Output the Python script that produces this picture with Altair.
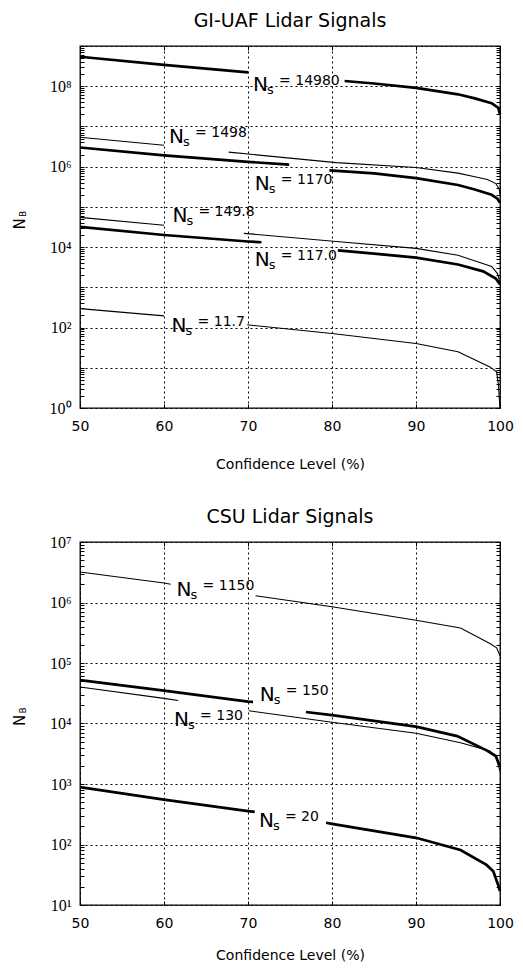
import altair as alt
import pandas as pd

# ---------------- GI-UAF panel data (confidence %, N_B) ----------------
gi_14980_conf_a = [50, 60, 70]
gi_14980_nb_a = [5.4e8, 3.4e8, 2.2e8]
gi_14980_conf_b = [81.5, 85, 90, 95, 97, 99, 99.8, 100]
gi_14980_nb_b = [1.35e8, 1.17e8, 9.1e7, 6.3e7, 5.0e7, 3.8e7, 2.9e7, 2.0e7]

gi_1498_conf_a = [50, 60]
gi_1498_nb_a = [5.4e6, 3.4e6]
gi_1498_conf_b = [67.7, 80.5, 90, 95, 97, 98.5, 99.5, 99.9, 100]
gi_1498_nb_b = [2.3e6, 1.26e6, 9.5e5, 6.9e5, 5.6e5, 4.8e5, 3.8e5, 2.8e5, 2.0e5]

gi_1170_conf_a = [50, 60, 70, 74.9]
gi_1170_nb_a = [3.0e6, 1.9e6, 1.32e6, 1.12e6]
gi_1170_conf_b = [79.7, 85, 90, 95, 97, 99, 99.7, 100]
gi_1170_nb_b = [8.1e5, 6.8e5, 5.2e5, 3.5e5, 2.7e5, 2.0e5, 1.6e5, 1.26e5]

gi_1498b_conf_a = [50, 60]
gi_1498b_nb_a = [5.5e4, 3.5e4]
gi_1498b_conf_b = [69.5, 80.5, 90, 95, 97.5, 99, 99.7, 100]
gi_1498b_nb_b = [2.2e4, 1.38e4, 9.3e3, 6.3e3, 4.2e3, 3.3e3, 2.2e3, 1.3e3]

gi_1170b_conf_a = [50, 60, 70, 71.6]
gi_1170b_nb_a = [3.2e4, 2.0e4, 1.38e4, 1.32e4]
gi_1170b_conf_b = [80.7, 85, 90, 95, 98, 99.5, 100]
gi_1170b_nb_b = [8.3e3, 6.9e3, 5.5e3, 3.7e3, 2.5e3, 1.66e3, 1.17e3]

gi_117_conf_a = [50, 60]
gi_117_nb_a = [295, 195]
gi_117_conf_b = [69.9, 80, 90, 95, 98.8, 99.6, 99.8, 100]
gi_117_nb_b = [117, 71, 40, 25, 10.5, 7.9, 4.0, 1.0]

gi_label_text = ["14980", "1498", "1170", "149.8", "117.0", "11.7"]
gi_label_conf = [70.6, 60.6, 70.8, 61.0, 70.8, 60.9]
gi_label_nb = [1.35e8, 6.8e6, 4.6e5, 7.4e4, 6.0e3, 135]

# ---------------- CSU panel data ----------------
csu_1150_conf_a = [50, 60, 60.8]
csu_1150_nb_a = [3.2e6, 2.1e6, 2.0e6]
csu_1150_conf_b = [70.9, 80, 90, 95.3, 98.8, 99.6, 100]
csu_1150_nb_b = [1.29e6, 8.5e5, 5.1e5, 3.8e5, 2.1e5, 1.78e5, 1.32e5]

csu_150_conf_a = [50, 60, 70, 70.6]
csu_150_nb_a = [5.2e4, 3.5e4, 2.3e4, 2.28e4]
csu_150_conf_b = [76.9, 80, 90, 94.9, 98.4, 99.5, 100]
csu_150_nb_b = [1.55e4, 1.38e4, 8.9e3, 6.2e3, 3.6e3, 2.9e3, 1.9e3]

csu_130_conf_a = [50, 60, 61.7]
csu_130_nb_a = [4.0e4, 2.6e4, 2.4e4]
csu_130_conf_b = [70.1, 80, 90, 95.3, 98.8, 99.6, 100]
csu_130_nb_b = [1.62e4, 1.05e4, 6.9e3, 4.8e3, 3.5e3, 2.7e3, 1.6e3]

csu_20_conf_a = [50, 60, 70, 70.8]
csu_20_nb_a = [890, 550, 355, 347]
csu_20_conf_b = [79.3, 80, 90, 95.3, 98.4, 99.2, 99.8, 100]
csu_20_nb_b = [229, 219, 129, 81, 46, 36, 21, 17]

csu_label_text = ["1150", "150", "130", "20"]
csu_label_conf = [61.5, 71.4, 61.2, 71.3]
csu_label_nb = [1.86e6, 3.5e4, 1.32e4, 282]

x_ticks = [50, 60, 70, 80, 90, 100]
ytitle_main = "N"
ytitle_sub = "B"
title_top = "GI-UAF Lidar Signals"
title_bottom = "CSU Lidar Signals"
x_title = "Confidence Level (%)"

gi_series = [
    ("s14980", "thick", [(gi_14980_conf_a, gi_14980_nb_a), (gi_14980_conf_b, gi_14980_nb_b)]),
    ("s1498", "thin", [(gi_1498_conf_a, gi_1498_nb_a), (gi_1498_conf_b, gi_1498_nb_b)]),
    ("s1170", "thick", [(gi_1170_conf_a, gi_1170_nb_a), (gi_1170_conf_b, gi_1170_nb_b)]),
    ("s149.8", "thin", [(gi_1498b_conf_a, gi_1498b_nb_a), (gi_1498b_conf_b, gi_1498b_nb_b)]),
    ("s117.0", "thick", [(gi_1170b_conf_a, gi_1170b_nb_a), (gi_1170b_conf_b, gi_1170b_nb_b)]),
    ("s11.7", "thin", [(gi_117_conf_a, gi_117_nb_a), (gi_117_conf_b, gi_117_nb_b)]),
]
csu_series = [
    ("s1150", "thin", [(csu_1150_conf_a, csu_1150_nb_a), (csu_1150_conf_b, csu_1150_nb_b)]),
    ("s150", "thick", [(csu_150_conf_a, csu_150_nb_a), (csu_150_conf_b, csu_150_nb_b)]),
    ("s130", "thin", [(csu_130_conf_a, csu_130_nb_a), (csu_130_conf_b, csu_130_nb_b)]),
    ("s20", "thick", [(csu_20_conf_a, csu_20_nb_a), (csu_20_conf_b, csu_20_nb_b)]),
]

W = 420
FONT = "DejaVu Sans"
K = "round(log(datum.value)/LN10)"
ISDEC = f"abs(log(datum.value)/LN10 - {K}) < 0.001"
SUP = "['\u2070','\u00b9','\u00b2','\u00b3','\u2074','\u2075','\u2076','\u2077','\u2078','\u2079']"
INWARD = {"expr": "-4"}


def line_rows(series):
    rows = []
    for sid, weight, pieces in series:
        for i, (xs, ys) in enumerate(pieces):
            for x, y in zip(xs, ys):
                rows.append({"conf": x, "nb": y, "seg": f"{sid}-{i}", "weight": weight})
    return pd.DataFrame(rows)


def panel(series, ltext, lconf, lnb, title, kmin, kmax, even_only, H, tpad):
    decades = [10 ** k for k in range(kmin, kmax + 1)]
    minors = [m * 10 ** k for k in range(kmin, kmax) for m in range(2, 10)]
    yvals = sorted(decades + minors)
    if even_only:
        lab = f"({ISDEC}) && ({K} % 2 == 0) ? '10' + {SUP}[{K}] : ''"
    else:
        lab = f"({ISDEC}) ? '10' + {SUP}[{K}] : ''"

    xs = alt.Scale(domain=[50, 100], nice=False, zero=False)
    ys = alt.Scale(type="log", domain=[10 ** kmin, 10 ** kmax], nice=False)

    x_bottom = alt.Axis(values=x_ticks, grid=True, gridDash=[2, 3], gridColor="black",
                        gridWidth=1, tickSize=INWARD, tickColor="black", domain=False,
                        labelFont=FONT, labelFontSize=14, labelColor="black",
                        labelPadding=15, labelFlush=False, title=x_title,
                        titleFont=FONT, titleFontSize=14, titleFontWeight="normal",
                        titleColor="black", titlePadding=tpad)
    y_left = alt.Axis(values=yvals, labelExpr=lab, grid=True, gridDash=[2, 3],
                      gridColor="black", gridWidth=1,
                      gridOpacity={"condition": {"test": ISDEC, "value": 1}, "value": 0},
                      tickSize=INWARD, tickColor="black", domain=False,
                      labelFont="Liberation Serif", labelFontSize=16, labelColor="black",
                      labelPadding=13, labelFlush=False, labelOverlap=False, title=None)
    x_top = alt.Axis(orient="top", values=x_ticks, grid=False, labels=False,
                     tickSize=INWARD, tickColor="black", domain=False, title=None,
                     minExtent=0, maxExtent=0)
    y_right = alt.Axis(orient="right", values=yvals, grid=False, labels=False,
                       tickSize=INWARD, tickColor="black", domain=False, title=None,
                       minExtent=0, maxExtent=0)

    lines = alt.Chart(line_rows(series)).mark_line(color="black").encode(
        x=alt.X("conf:Q", scale=xs, axis=x_bottom),
        y=alt.Y("nb:Q", scale=ys, axis=y_left),
        detail="seg:N",
        strokeWidth=alt.StrokeWidth("weight:N", scale=alt.Scale(domain=["thick", "thin"], range=[2.7, 1.1]), legend=None),
    )

    ldf = pd.DataFrame({"lx": lconf, "ly": lnb, "txt": ["= " + t for t in ltext]})
    n_lab = alt.Chart(ldf).mark_text(text="N", align="left", baseline="alphabetic", dy=10,
                                     fontSize=20, font=FONT, color="black").encode(
        x=alt.X("lx:Q", scale=xs, axis=x_top),
        y=alt.Y("ly:Q", scale=ys, axis=y_right),
    )
    s_lab = alt.Chart(ldf).mark_text(text="s", align="left", baseline="alphabetic", dx=14, dy=13,
                                     fontSize=13, font=FONT, color="black").encode(
        x=alt.X("lx:Q", scale=xs, axis=None),
        y=alt.Y("ly:Q", scale=ys, axis=None),
    )
    v_lab = alt.Chart(ldf).mark_text(align="left", baseline="middle", dx=26,
                                     fontSize=14, font=FONT, color="black").encode(
        x=alt.X("lx:Q", scale=xs, axis=None),
        y=alt.Y("ly:Q", scale=ys, axis=None),
        text="txt:N",
    )
    yt = alt.Chart(pd.DataFrame({"t": [ytitle_main]})).mark_text(
        angle=270, align="center", baseline="alphabetic", fontSize=15, font=FONT, color="black"
    ).encode(x=alt.value(-55), y=alt.value(H / 2 - 3), text="t:N")
    yt_sub = alt.Chart(pd.DataFrame({"t": [ytitle_sub]})).mark_text(
        angle=270, align="center", baseline="alphabetic", fontSize=9, font=FONT, color="black"
    ).encode(x=alt.value(-54), y=alt.value(H / 2 - 13), text="t:N")

    return alt.layer(
        lines, n_lab, s_lab, v_lab, yt, yt_sub,
        title=alt.TitleParams(title, font=FONT, fontSize=19, fontWeight="normal",
                              color="black", offset=7, frame="group", anchor="middle"),
    ).resolve_axis(x="independent", y="independent").properties(width=W, height=H)


top = panel(gi_series, gi_label_text, gi_label_conf, gi_label_nb, title_top, 0, 9, True, 362, 24)
bottom = panel(csu_series, csu_label_text, csu_label_conf, csu_label_nb, title_bottom, 1, 7, False, 363, 18)

chart = alt.vconcat(top, bottom, spacing=35).properties(
    padding={"left": 4, "top": 3, "right": 0, "bottom": 0}
).configure_view(stroke="black", strokeWidth=1.3)

chart.save("out.html", embed_options={"renderer": "svg", "actions": False})
